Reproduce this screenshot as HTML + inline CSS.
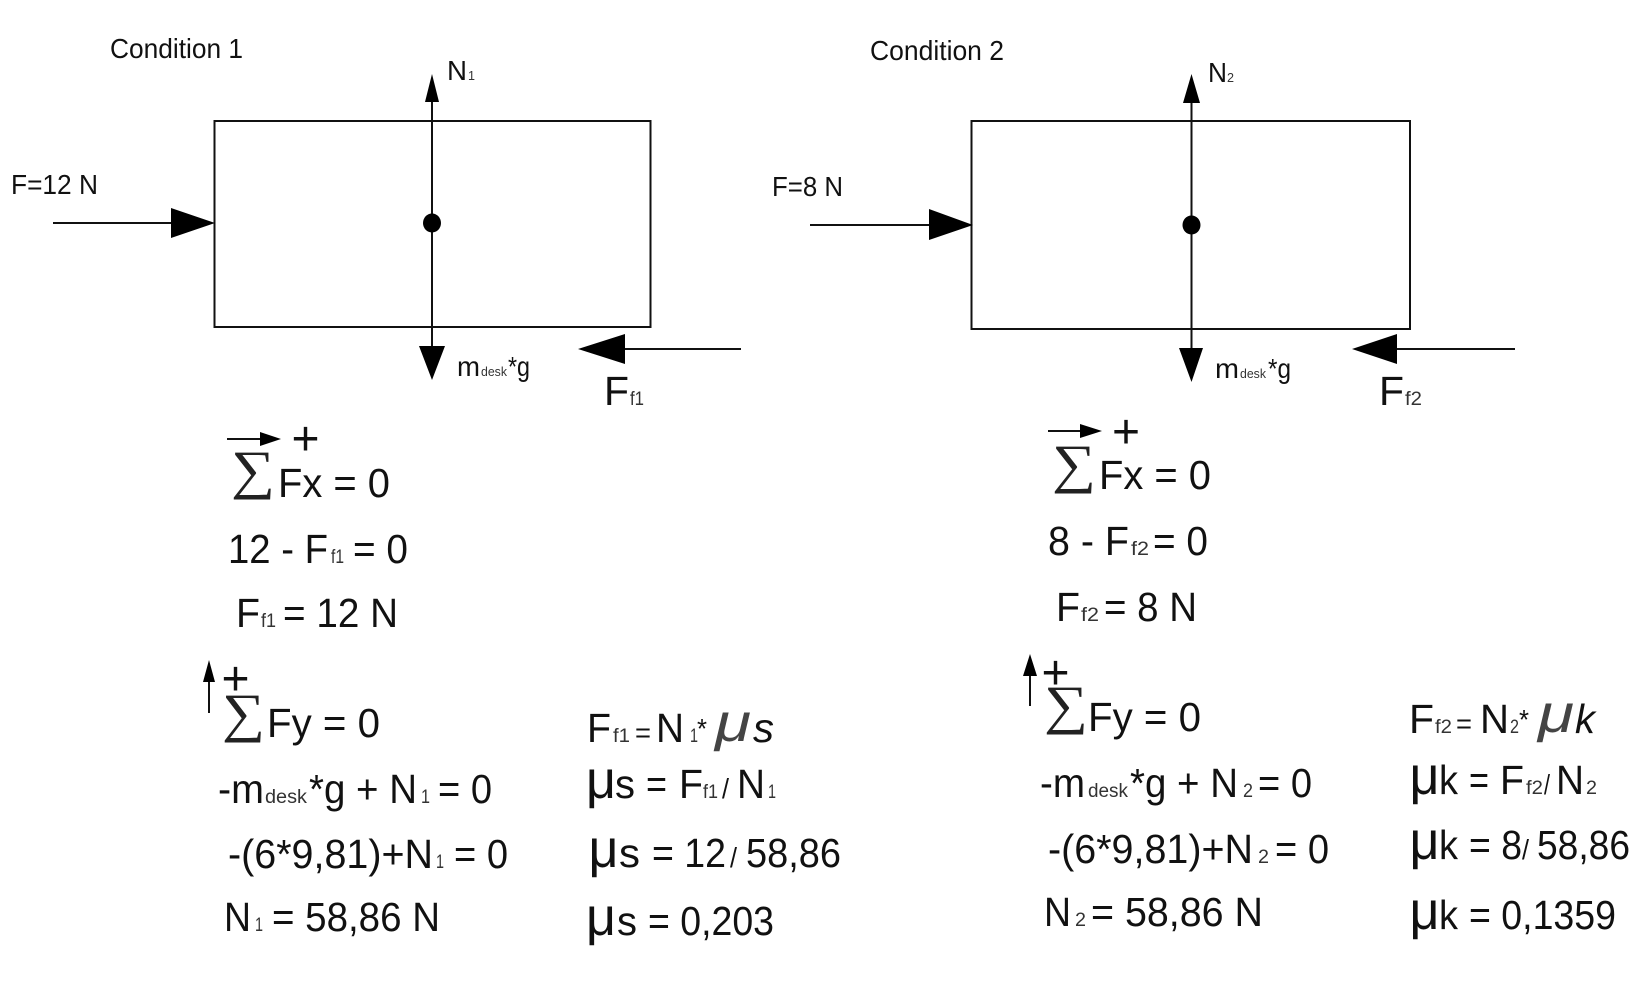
<!DOCTYPE html>
<html><head><meta charset="utf-8">
<style>
html,body{margin:0;padding:0;background:#fff}
svg{display:block;filter:blur(.35px)}
text{font-family:"Liberation Sans",Arial,sans-serif;fill:#111;white-space:pre}
.a{font-size:28px}
.b{font-size:41px}
.s{font-size:19px;fill:#333}
.t{font-size:13px;fill:#333}
.p{font-size:48px}
.u{font-size:54px}
.sig{font-family:"Liberation Serif",serif;font-size:54px;fill:#222}
.mu{font-style:italic;font-size:54px;fill:#444}
</style></head><body>
<svg width="1647" height="993" viewBox="0 0 1647 993" xmlns="http://www.w3.org/2000/svg">
<rect width="1647" height="993" fill="#fff"/>
<g fill="none" stroke="#111" stroke-width="2">
<rect x="214.500" y="121" width="436" height="206"/>
<rect x="971.500" y="121" width="438.500" height="208"/>
<path d="M432 100V348M53 223H175M625 349H741M1191.500 100V350M810 225H933M1397 349H1515M227 439H262M1048 431H1082M209 680V713M1030 674V706"/>
</g>
<g fill="#000">
<path d="M432 74L439 102H425ZM419 346H445L432 380ZM171 208L215 223L171 238ZM578 349L625 334V364Z"/>
<ellipse cx="432" cy="223" rx="9" ry="9.500"/>
<path d="M1191.500 74L1200 103H1183ZM1179 348H1203L1191.500 382ZM929 209L973 225L929 240ZM1352 349L1397 334V364Z"/>
<ellipse cx="1191.500" cy="225" rx="9" ry="9.500"/>
<path d="M260 432L281 439L260 446ZM1080 424L1102 431L1080 438ZM209 660L215 682H203ZM1030 654L1037 676H1023Z"/>
</g>

<!-- top labels, condition 1 -->
<text class="a" x="110" y="58" textLength="133" lengthAdjust="spacingAndGlyphs">Condition 1</text>
<text class="a" x="11" y="194" textLength="87" lengthAdjust="spacingAndGlyphs">F=12 N</text>
<text class="a" x="447" y="80" textLength="20" lengthAdjust="spacingAndGlyphs">N</text>
<text class="t" x="468" y="80" textLength="7" lengthAdjust="spacingAndGlyphs">1</text>
<text class="a" x="457" y="376" textLength="23" lengthAdjust="spacingAndGlyphs">m</text>
<text class="t" x="481" y="376" textLength="26" lengthAdjust="spacingAndGlyphs">desk</text>
<text class="a" x="508" y="376" textLength="22" lengthAdjust="spacingAndGlyphs">*g</text>
<text class="b" x="604" y="405" textLength="25" lengthAdjust="spacingAndGlyphs">F</text>
<text class="s" x="630" y="405" textLength="14" lengthAdjust="spacingAndGlyphs">f1</text>

<!-- top labels, condition 2 -->
<text class="a" x="870" y="60" textLength="134" lengthAdjust="spacingAndGlyphs">Condition 2</text>
<text class="a" x="772" y="196" textLength="71" lengthAdjust="spacingAndGlyphs">F=8 N</text>
<text class="a" x="1208" y="82" textLength="19" lengthAdjust="spacingAndGlyphs">N</text>
<text class="t" x="1227" y="82" textLength="7" lengthAdjust="spacingAndGlyphs">2</text>
<text class="a" x="1215" y="378" textLength="24" lengthAdjust="spacingAndGlyphs">m</text>
<text class="t" x="1240" y="378" textLength="26" lengthAdjust="spacingAndGlyphs">desk</text>
<text class="a" x="1268" y="378" textLength="23" lengthAdjust="spacingAndGlyphs">*g</text>
<text class="b" x="1379" y="405" textLength="25" lengthAdjust="spacingAndGlyphs">F</text>
<text class="s" x="1405" y="405" textLength="17" lengthAdjust="spacingAndGlyphs">f2</text>

<!-- left equations -->
<text class="p" x="305.500" y="455" text-anchor="middle">+</text>
<text class="sig" x="231" y="488" textLength="44" lengthAdjust="spacingAndGlyphs">∑</text>
<text class="b" x="278" y="497" textLength="112" lengthAdjust="spacingAndGlyphs">Fx = 0</text>
<text class="b" x="228" y="563" textLength="100" lengthAdjust="spacingAndGlyphs">12 - F</text>
<text class="s" x="331" y="563" textLength="13" lengthAdjust="spacingAndGlyphs">f1</text>
<text class="b" x="353" y="563" textLength="55" lengthAdjust="spacingAndGlyphs">= 0</text>
<text class="b" x="236" y="627" textLength="24" lengthAdjust="spacingAndGlyphs">F</text>
<text class="s" x="261" y="627" textLength="15" lengthAdjust="spacingAndGlyphs">f1</text>
<text class="b" x="283" y="627" textLength="115" lengthAdjust="spacingAndGlyphs">= 12 N</text>
<text class="p" x="235.500" y="695" text-anchor="middle">+</text>
<text class="sig" x="222" y="731" textLength="43" lengthAdjust="spacingAndGlyphs">∑</text>
<text class="b" x="267" y="737" textLength="113" lengthAdjust="spacingAndGlyphs">Fy = 0</text>
<text class="b" x="218" y="803" textLength="46" lengthAdjust="spacingAndGlyphs">-m</text>
<text class="s" x="265" y="803" textLength="42" lengthAdjust="spacingAndGlyphs">desk</text>
<text class="b" x="309" y="803" textLength="108" lengthAdjust="spacingAndGlyphs">*g + N</text>
<text class="s" x="421" y="803" textLength="9" lengthAdjust="spacingAndGlyphs">1</text>
<text class="b" x="438" y="803" textLength="54" lengthAdjust="spacingAndGlyphs">= 0</text>
<text class="b" x="228" y="868" textLength="205" lengthAdjust="spacingAndGlyphs">-(6*9,81)+N</text>
<text class="s" x="436" y="868" textLength="8" lengthAdjust="spacingAndGlyphs">1</text>
<text class="b" x="454" y="868" textLength="54" lengthAdjust="spacingAndGlyphs">= 0</text>
<text class="b" x="224" y="931" textLength="27" lengthAdjust="spacingAndGlyphs">N</text>
<text class="s" x="255" y="931" textLength="8" lengthAdjust="spacingAndGlyphs">1</text>
<text class="b" x="272" y="931" textLength="168" lengthAdjust="spacingAndGlyphs">= 58,86 N</text>

<!-- left mu column -->
<text class="b" x="587" y="742" textLength="24" lengthAdjust="spacingAndGlyphs">F</text>
<text class="s" x="613" y="742" textLength="17" lengthAdjust="spacingAndGlyphs">f1</text>
<text class="a" x="635" y="742" textLength="16" lengthAdjust="spacingAndGlyphs">=</text>
<text class="b" x="656" y="742" textLength="28" lengthAdjust="spacingAndGlyphs">N</text>
<text class="s" x="690" y="742" textLength="8" lengthAdjust="spacingAndGlyphs">1</text>
<text class="a" x="697" y="738" textLength="10" lengthAdjust="spacingAndGlyphs">*</text>
<text class="mu" x="715" y="741" textLength="36" lengthAdjust="spacingAndGlyphs">μ</text>
<text class="b" x="753" y="742" font-style="italic" textLength="21" lengthAdjust="spacingAndGlyphs">s</text>
<text class="u" x="586" y="798" textLength="30" lengthAdjust="spacingAndGlyphs">μ</text>
<text class="b" x="615" y="798" textLength="20" lengthAdjust="spacingAndGlyphs">s</text>
<text class="b" x="646" y="798" textLength="21" lengthAdjust="spacingAndGlyphs">=</text>
<text class="b" x="679" y="798" textLength="24" lengthAdjust="spacingAndGlyphs">F</text>
<text class="s" x="703" y="798" textLength="15" lengthAdjust="spacingAndGlyphs">f1</text>
<text class="a" x="722" y="798" textLength="7" lengthAdjust="spacingAndGlyphs">/</text>
<text class="b" x="737" y="798" textLength="28" lengthAdjust="spacingAndGlyphs">N</text>
<text class="s" x="768" y="798" textLength="8" lengthAdjust="spacingAndGlyphs">1</text>
<text class="u" x="588.500" y="867" textLength="30" lengthAdjust="spacingAndGlyphs">μ</text>
<text class="b" x="619" y="867" textLength="21" lengthAdjust="spacingAndGlyphs">s</text>
<text class="b" x="652" y="867" textLength="74" lengthAdjust="spacingAndGlyphs">= 12</text>
<text class="a" x="730" y="867" textLength="7" lengthAdjust="spacingAndGlyphs">/</text>
<text class="b" x="746" y="867" textLength="95" lengthAdjust="spacingAndGlyphs">58,86</text>
<text class="u" x="586" y="935" textLength="30" lengthAdjust="spacingAndGlyphs">μ</text>
<text class="b" x="617" y="935" textLength="20" lengthAdjust="spacingAndGlyphs">s</text>
<text class="b" x="648" y="935" textLength="126" lengthAdjust="spacingAndGlyphs">= 0,203</text>

<!-- right equations -->
<text class="p" x="1126" y="448" text-anchor="middle">+</text>
<text class="sig" x="1052" y="482" textLength="44" lengthAdjust="spacingAndGlyphs">∑</text>
<text class="b" x="1099" y="489" textLength="112" lengthAdjust="spacingAndGlyphs">Fx = 0</text>
<text class="b" x="1048" y="555" textLength="81" lengthAdjust="spacingAndGlyphs">8 - F</text>
<text class="s" x="1131" y="555" textLength="18" lengthAdjust="spacingAndGlyphs">f2</text>
<text class="b" x="1153" y="555" textLength="55" lengthAdjust="spacingAndGlyphs">= 0</text>
<text class="b" x="1056" y="621" textLength="24" lengthAdjust="spacingAndGlyphs">F</text>
<text class="s" x="1081" y="621" textLength="18" lengthAdjust="spacingAndGlyphs">f2</text>
<text class="b" x="1104" y="621" textLength="93" lengthAdjust="spacingAndGlyphs">= 8 N</text>
<text class="p" x="1055.500" y="689" text-anchor="middle">+</text>
<text class="sig" x="1044" y="723" textLength="44" lengthAdjust="spacingAndGlyphs">∑</text>
<text class="b" x="1088" y="731" textLength="113" lengthAdjust="spacingAndGlyphs">Fy = 0</text>
<text class="b" x="1040" y="797" textLength="45" lengthAdjust="spacingAndGlyphs">-m</text>
<text class="s" x="1088" y="797" textLength="40" lengthAdjust="spacingAndGlyphs">desk</text>
<text class="b" x="1130" y="797" textLength="108" lengthAdjust="spacingAndGlyphs">*g + N</text>
<text class="s" x="1243" y="797" textLength="10" lengthAdjust="spacingAndGlyphs">2</text>
<text class="b" x="1258" y="797" textLength="54" lengthAdjust="spacingAndGlyphs">= 0</text>
<text class="b" x="1048" y="863" textLength="205" lengthAdjust="spacingAndGlyphs">-(6*9,81)+N</text>
<text class="s" x="1258" y="863" textLength="11" lengthAdjust="spacingAndGlyphs">2</text>
<text class="b" x="1275" y="863" textLength="54" lengthAdjust="spacingAndGlyphs">= 0</text>
<text class="b" x="1044" y="926" textLength="27" lengthAdjust="spacingAndGlyphs">N</text>
<text class="s" x="1075" y="926" textLength="11" lengthAdjust="spacingAndGlyphs">2</text>
<text class="b" x="1091" y="926" textLength="172" lengthAdjust="spacingAndGlyphs">= 58,86 N</text>

<!-- right mu column -->
<text class="b" x="1409" y="733" textLength="25" lengthAdjust="spacingAndGlyphs">F</text>
<text class="s" x="1435" y="733" textLength="17" lengthAdjust="spacingAndGlyphs">f2</text>
<text class="a" x="1456" y="733" textLength="16" lengthAdjust="spacingAndGlyphs">=</text>
<text class="b" x="1480" y="733" textLength="29" lengthAdjust="spacingAndGlyphs">N</text>
<text class="s" x="1510" y="733" textLength="9" lengthAdjust="spacingAndGlyphs">2</text>
<text class="a" x="1519" y="729" textLength="10" lengthAdjust="spacingAndGlyphs">*</text>
<text class="mu" x="1538" y="732" textLength="36" lengthAdjust="spacingAndGlyphs">μ</text>
<text class="b" x="1575" y="733" font-style="italic" textLength="20" lengthAdjust="spacingAndGlyphs">k</text>
<text class="u" x="1409.500" y="794" textLength="30" lengthAdjust="spacingAndGlyphs">μ</text>
<text class="b" x="1439" y="794" textLength="19" lengthAdjust="spacingAndGlyphs">k</text>
<text class="b" x="1469" y="794" textLength="20" lengthAdjust="spacingAndGlyphs">=</text>
<text class="b" x="1500" y="794" textLength="24" lengthAdjust="spacingAndGlyphs">F</text>
<text class="s" x="1526" y="794" textLength="17" lengthAdjust="spacingAndGlyphs">f2</text>
<text class="a" x="1544" y="794" textLength="6" lengthAdjust="spacingAndGlyphs">/</text>
<text class="b" x="1556" y="794" textLength="28" lengthAdjust="spacingAndGlyphs">N</text>
<text class="s" x="1586" y="794" textLength="11" lengthAdjust="spacingAndGlyphs">2</text>
<text class="u" x="1409.500" y="859" textLength="30" lengthAdjust="spacingAndGlyphs">μ</text>
<text class="b" x="1439" y="859" textLength="19" lengthAdjust="spacingAndGlyphs">k</text>
<text class="b" x="1469" y="859" textLength="53" lengthAdjust="spacingAndGlyphs">= 8</text>
<text class="a" x="1522" y="859" textLength="7" lengthAdjust="spacingAndGlyphs">/</text>
<text class="b" x="1537" y="859" textLength="93" lengthAdjust="spacingAndGlyphs">58,86</text>
<text class="u" x="1409.500" y="929" textLength="30" lengthAdjust="spacingAndGlyphs">μ</text>
<text class="b" x="1439" y="929" textLength="19" lengthAdjust="spacingAndGlyphs">k</text>
<text class="b" x="1469" y="929" textLength="147" lengthAdjust="spacingAndGlyphs">= 0,1359</text>
</svg>
</body></html>
